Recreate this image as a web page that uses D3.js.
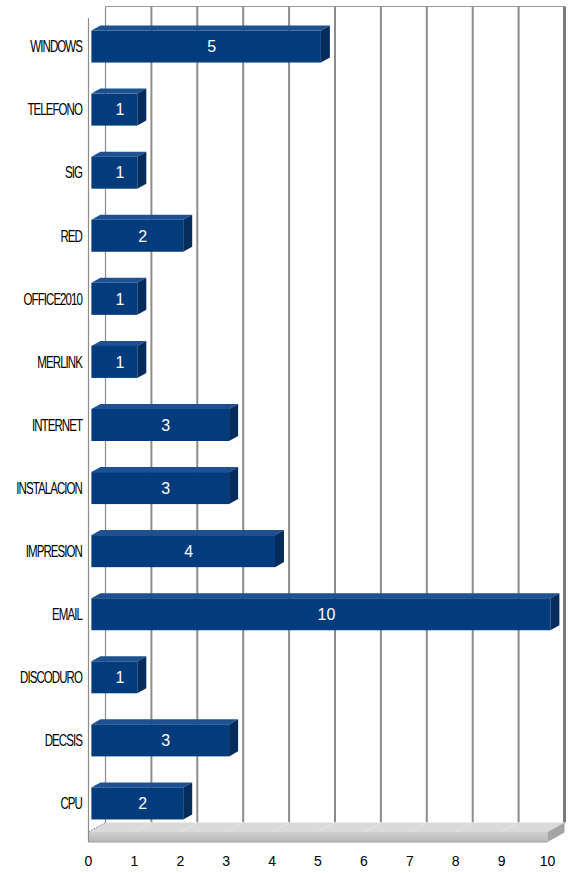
<!DOCTYPE html>
<html>
<head>
<meta charset="utf-8">
<script src="https://cdn.jsdelivr.net/npm/d3@7"></script>
<style>
html,body{margin:0;padding:0;background:#fff;}
svg{display:block;}
text{font-family:"Liberation Sans",Arial,sans-serif;}
</style>
</head>
<body>
<script>
const categories = ["WINDOWS","TELEFONO","SIG","RED","OFFICE2010","MERLINK","INTERNET","INSTALACION","IMPRESION","EMAIL","DISCODURO","DECSIS","CPU"];
const values = [5,1,1,2,1,1,3,3,4,10,1,3,2];
const tickValues = [0,1,2,3,4,5,6,7,8,9,10];

const W = 573, H = 873;
const svg = d3.select("body").append("svg").attr("width", W).attr("height", H);

const x = d3.scaleLinear().domain([0,10]).range([88.5, 547.5]);
const y = d3.scaleBand().domain(categories).range([14, 834]);

const DX = 17, DY = -9.5;           // full depth offset
const frontTop = 16, floorY = 832;  // front plane extents

// back wall gridlines
const g = svg.append("g");
g.selectAll("line.grid").data(tickValues.slice(1)).join("line")
  .attr("x1", d => x(d) + DX).attr("x2", d => x(d) + DX)
  .attr("y1", frontTop + DY).attr("y2", floorY + DY)
  .attr("stroke", d => d === 10 ? "#7a7a7a" : "#8c8c8c")
  .attr("stroke-width", d => d === 10 ? 3 : 2);
// back wall left edge and top edge
g.append("line").attr("x1", x(0)+DX).attr("x2", x(0)+DX).attr("y1", frontTop+DY).attr("y2", floorY+DY)
  .attr("stroke", "#8c8c8c").attr("stroke-width", 1.2);
g.append("line").attr("x1", x(0)+DX).attr("x2", x(10)+DX).attr("y1", frontTop+DY).attr("y2", frontTop+DY)
  .attr("stroke", "#9a9a9a").attr("stroke-width", 1);

// floor slab
const slab = 10;
const floorTop = [[x(0),floorY],[x(10),floorY],[x(10)+DX,floorY+DY],[x(0)+DX,floorY+DY]];
const floorFront = [[x(0),floorY],[x(10),floorY],[x(10),floorY+slab],[x(0),floorY+slab]];
const floorSide = [[x(10),floorY],[x(10)+DX,floorY+DY],[x(10)+DX,floorY+DY+slab],[x(10),floorY+slab]];
const defs = svg.append("defs");
const gf = defs.append("linearGradient").attr("id","ff").attr("x1",0).attr("y1",0).attr("x2",0).attr("y2",1);
gf.append("stop").attr("offset","0%").attr("stop-color","#cfcfcf");
gf.append("stop").attr("offset","100%").attr("stop-color","#b9b9b9");
const line = d3.line();
g.append("path").attr("d", line(floorTop)+"Z").attr("fill","#dadada");
g.append("path").attr("d", line(floorFront)+"Z").attr("fill","url(#ff)");
g.append("path").attr("d", line(floorSide)+"Z").attr("fill","#a4a4a4");
g.append("line").attr("x1",x(0)).attr("x2",x(10)).attr("y1",floorY+slab).attr("y2",floorY+slab)
  .attr("stroke","#a0a0a0").attr("stroke-width",1);
// faint diagonals on floor
g.selectAll("line.fd").data(tickValues.slice(1,10)).join("line")
  .attr("x1", d => x(d)).attr("y1", floorY)
  .attr("x2", d => x(d)+DX).attr("y2", floorY+DY)
  .attr("stroke","#e6e6e6").attr("stroke-width",1);
g.append("line").attr("x1",x(0)).attr("y1",floorY).attr("x2",x(0)+DX).attr("y2",floorY+DY)
  .attr("stroke","#777").attr("stroke-width",1).attr("stroke-dasharray","1.5,1.5");

// left wall front edge
g.append("line").attr("x1", x(0)).attr("x2", x(0)).attr("y1", frontTop+2).attr("y2", floorY+slab)
  .attr("stroke", "#8c8c8c").attr("stroke-width", 1.2);

// bars
const f1 = 0.17, f2 = 0.70;
const fx = DX*f1, bx = DX*f2, ddy = DY*(f2-f1);
const bars = svg.append("g").selectAll("g.bar").data(categories.map((c,i)=>({c, v: values[i]}))).join("g");
bars.each(function(d){
  const gb = d3.select(this);
  const yc = y(d.c) + y.bandwidth()/2;
  const t = yc - 15, b = yc + 17;
  const xl = x(0) + fx, xr = x(d.v) + fx;
  const dx = bx - fx;
  gb.append("path").attr("d", line([[xl,t],[xl+dx,t+ddy],[xr+dx,t+ddy],[xr,t]])+"Z").attr("fill","#1d5192");
  gb.append("path").attr("d", line([[xr,t],[xr+dx,t+ddy],[xr+dx,b+ddy],[xr,b]])+"Z").attr("fill","#062c5c");
  gb.append("rect").attr("x", xl).attr("y", t).attr("width", xr-xl).attr("height", b-t).attr("fill","#023c7c");
  gb.append("text").attr("x", (xl + xr + dx)/2 + 1).attr("y", yc + 1).attr("dy","0.36em")
    .attr("text-anchor","middle").attr("fill","#fff").attr("font-size", 16).text(d.v);
});

// category labels (condensed)
svg.append("g").selectAll("g.lab").data(categories).join("g")
  .attr("transform", d => `translate(82,${y(d)+y.bandwidth()/2+1}) scale(0.72,1)`)
  .append("text").attr("text-anchor","end").attr("dy","0.36em").attr("font-size",16)
  .attr("letter-spacing","-1.3px")
  .attr("fill","#000").text(d => d);

// x tick labels
svg.append("g").selectAll("text.tick").data(tickValues).join("text")
  .attr("x", d => x(d)).attr("y", 861).attr("dy","0.36em").attr("text-anchor","middle")
  .attr("font-size", 14).attr("fill","#000").text(d => d);
</script>
</body>
</html>
